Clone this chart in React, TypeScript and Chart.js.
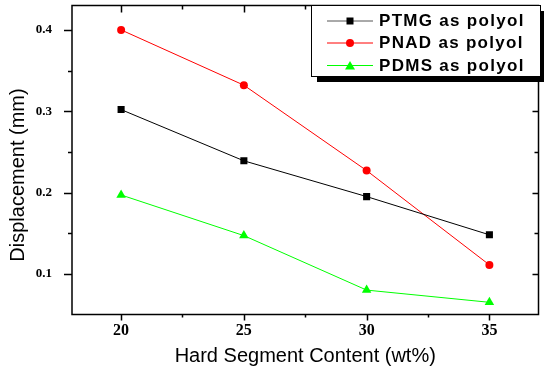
import React, { useEffect, useRef } from "react";
import { Chart, registerables } from "chart.js";

Chart.register(...registerables);

const categories = [20, 25, 30, 35];
const ptmg = [0.302, 0.239, 0.195, 0.148];
const pnad = [0.4, 0.332, 0.227, 0.111];
const pdms = [0.197, 0.147, 0.08, 0.065];
const seriesNames = ["PTMG as polyol", "PNAD as polyol", "PDMS as polyol"];
const xTicks = [20, 25, 30, 35];
const xMinor = [22.5, 27.5, 32.5];
const yTicks = [0.1, 0.2, 0.3, 0.4];
const yMinor = [0.15, 0.25, 0.35];
const yTitle = "Displacement (mm)";
const xTitle = "Hard Segment Content (wt%)";

const colors = ["#000000", "#ff0000", "#00ff00"];
const styles = ["rect", "circle", "triangle"];

const framePlugin = {
  id: "frame",
  afterDraw(chart: any) {
    const { ctx, chartArea } = chart;
    const { left, right, top, bottom } = chartArea;
    const xs = chart.scales.x;
    const ys = chart.scales.y;
    ctx.save();
    ctx.strokeStyle = "#000";
    ctx.lineWidth = 1.5;
    ctx.strokeRect(left, top, right - left, bottom - top);
    ctx.lineWidth = 1.5;
    ctx.beginPath();
    const tick = (x1: number, y1: number, x2: number, y2: number) => {
      ctx.moveTo(x1, y1);
      ctx.lineTo(x2, y2);
    };
    xTicks.forEach((v) => {
      const p = Math.round(xs.getPixelForValue(v)) + 0.5;
      tick(p, bottom, p, bottom + 6);
      tick(p, top, p, top + 7);
    });
    xMinor.forEach((v) => {
      const p = Math.round(xs.getPixelForValue(v)) + 0.5;
      tick(p, bottom, p, bottom + 3);
      tick(p, top, p, top + 4);
    });
    yTicks.forEach((v) => {
      const p = Math.round(ys.getPixelForValue(v)) + 0.5;
      tick(left, p, left - 8, p);
      tick(right, p, right - 6, p);
    });
    yMinor.forEach((v) => {
      const p = Math.round(ys.getPixelForValue(v)) + 0.5;
      tick(left, p, left - 4, p);
      tick(right, p, right - 4, p);
    });
    ctx.stroke();

    // y axis title
    ctx.save();
    ctx.translate(18, 175);
    ctx.rotate(-Math.PI / 2);
    ctx.fillStyle = "#000";
    ctx.font = "20px 'Liberation Sans', Arial, sans-serif";
    ctx.textAlign = "center";
    ctx.textBaseline = "middle";
    ctx.fillText(yTitle, 0, 0);
    ctx.restore();

    // legend box with shadow
    const bx = 311, by = 5, bw = 229, bh = 71;
    ctx.fillStyle = "#000";
    ctx.fillRect(bx + 6, by + 6, bw, bh);
    ctx.fillStyle = "#fff";
    ctx.fillRect(bx, by, bw, bh);
    ctx.lineWidth = 1;
    ctx.strokeStyle = "#000";
    ctx.strokeRect(bx + 0.5, by + 0.5, bw, bh);

    const rows = [20.5, 42.5, 65];
    rows.forEach((ry, i) => {
      const c = colors[i];
      ctx.strokeStyle = i === 0 ? "#555" : c;
      ctx.lineWidth = 1;
      ctx.beginPath();
      ctx.moveTo(327, ry + 0.5);
      ctx.lineTo(373, ry + 0.5);
      ctx.stroke();
      ctx.fillStyle = c;
      const cx = 350;
      ctx.beginPath();
      if (styles[i] === "rect") {
        ctx.rect(cx - 3.5, ry - 3, 7, 7);
      } else if (styles[i] === "circle") {
        ctx.arc(cx, ry + 0.5, 4, 0, Math.PI * 2);
      } else {
        ctx.moveTo(cx, ry - 4);
        ctx.lineTo(cx + 5, ry + 4.5);
        ctx.lineTo(cx - 5, ry + 4.5);
        ctx.closePath();
      }
      ctx.fill();
      ctx.fillStyle = "#000";
      ctx.font = "bold 17px 'Liberation Sans', Arial, sans-serif";
      (ctx as any).letterSpacing = "1.3px";
      ctx.textBaseline = "middle";
      ctx.textAlign = "left";
      ctx.fillText(seriesNames[i], 379, ry + 1);
      (ctx as any).letterSpacing = "0px";
    });
    ctx.restore();
  },
};

export default function App() {
  const ref = useRef<HTMLCanvasElement | null>(null);
  useEffect(() => {
    if (!ref.current) return;
    const mk = (data: number[], i: number) => ({
      label: seriesNames[i],
      data: categories.map((x, j) => ({ x, y: data[j] })),
      borderColor: colors[i],
      backgroundColor: colors[i],
      borderWidth: 1,
      pointStyle: styles[i],
      pointRadius: i === 0 ? 5 : i === 1 ? 4 : 5.5,
      pointBorderWidth: 0,
      tension: 0,
    });
    const chart = new Chart(ref.current, {
      type: "line",
      data: { datasets: [mk(ptmg, 0), mk(pnad, 1), mk(pdms, 2)] },
      options: {
        animation: false,
        responsive: false,
        layout: { padding: { top: 5, right: 2, left: 0, bottom: 0 } },
        plugins: { legend: { display: false }, tooltip: { enabled: false } },
        scales: {
          x: {
            type: "linear",
            min: 18,
            max: 37,
            grid: { display: false, drawTicks: false },
            border: { display: false },
            afterBuildTicks: (s: any) => {
              s.ticks = xTicks.map((v) => ({ value: v }));
            },
            afterFit: (s: any) => {
              s.height = 54.5;
              s.paddingLeft = 0;
              s.paddingRight = 0;
            },
            ticks: {
              color: "#000",
              padding: 7,
              maxRotation: 0,
              font: { family: "'Liberation Serif', serif", size: 16, weight: "bold" },
              callback: (v: any) => String(v),
            },
            title: {
              display: true,
              text: xTitle,
              color: "#000",
              font: { family: "'Liberation Sans', Arial, sans-serif", size: 20 },
              padding: { top: 0, bottom: 1 },
            },
          },
          y: {
            type: "linear",
            min: 0.05,
            max: 0.43,
            grid: { display: false, drawTicks: false },
            border: { display: false },
            afterBuildTicks: (s: any) => {
              s.ticks = yTicks.map((v) => ({ value: v }));
            },
            afterFit: (s: any) => {
              s.width = 72;
              s.paddingTop = 0;
              s.paddingBottom = 0;
            },
            ticks: {
              color: "#000",
              padding: 20,
              font: { family: "'Liberation Serif', serif", size: 13, weight: "bold" },
              callback: (v: any) => Number(v).toFixed(1),
            },
          },
        },
      },
      plugins: [framePlugin],
    } as any);
    return () => chart.destroy();
  }, []);
  return (
    <div style={{ position: "absolute", left: 0, top: 0, width: 544, height: 369, background: "#fff" }}>
      <canvas ref={ref} width={544} height={369} />
    </div>
  );
}
